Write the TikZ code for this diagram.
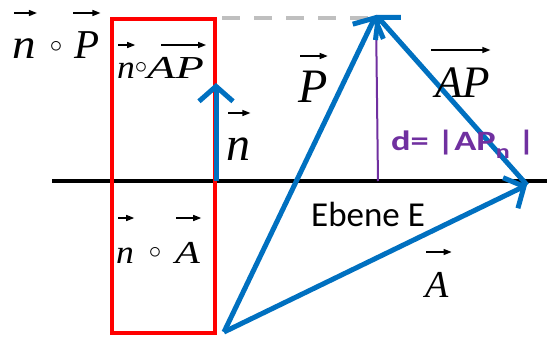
\documentclass[tikz,border=0pt]{standalone}
\usepackage{fontspec}
\setmainfont{Liberation Serif}
\newfontfamily\carl{Carlito}
\usepackage{graphicx}
\usetikzlibrary{arrows.meta}
\definecolor{eblue}{HTML}{0070C0}
\definecolor{epurple}{HTML}{7030A0}
\definecolor{ered}{HTML}{FF0000}
\definecolor{egray}{HTML}{BFBFBF}
\begin{document}
\begin{tikzpicture}[x=1pt,y=-1pt,
  bluevec/.style={draw=eblue, line width=5pt, -{Straight Barb[length=15pt,width=34pt]}},
  vecar/.style={line width=1.3pt, -{Triangle[length=8pt,width=6pt]}},
  lt/.style={inner sep=0pt, anchor=base west, font=\itshape\fontsize{#1}{#1}\selectfont},
  op/.style={inner sep=0pt, font=\fontsize{#1}{#1}\selectfont},
  lbl/.style={inner sep=0pt, anchor=base west}
]
\useasboundingbox (0,0) rectangle (547,343);
% points
\coordinate (O) at (224,332);
\coordinate (P) at (376,15);
\coordinate (A) at (527,185);
\coordinate (F) at (378,181);
\coordinate (L) at (52,181);
\coordinate (R) at (547,181);
\coordinate (nb) at (216,181);
\coordinate (nt) at (216,83);
\coordinate (g1) at (222,18);
\coordinate (g2) at (370,18);
% plane line
\draw[line width=4pt] (L) -- (R);
% red box
\draw[ered, line width=4pt] (112,19) rectangle (215,333);
% gray dashed
\draw[egray, line width=4pt, dash pattern=on 18pt off 14pt] (g1) -- (g2);
% purple distance
\draw[epurple, line width=2pt] (P) -- (F);
% blue vectors
\draw[bluevec] (nb) -- (nt);
\draw[bluevec] (O) -- (P);
\draw[bluevec] (O) -- (A);
\draw[bluevec] (A) -- (P);
% top-left formula
\node[lt=42] (n1) at (12,58) {\scalebox{1.12}[1]{n}};
\node[op=34] (c1) at (56,47) {$\circ$};
\node[lt=41] (P1) at (74,58) {P};
\draw[vecar] ([xshift=2pt,yshift=45pt]n1.base west) -- ([xshift=1pt,yshift=45pt]n1.base east);
\draw[vecar] ([xshift=-1pt,yshift=45pt]P1.base west) -- ([xshift=1pt,yshift=45pt]P1.base east);
% box upper formula
\node[lt=33] (n2) at (117,78) {\scalebox{1.08}[1]{n}};
\node[op=26] (c2) at (141,68) {$\circ$};
\node[lt=32] (AP2) at (147,78) {\scalebox{1.45}[1]{AP}};
\draw[vecar] ([xshift=1pt,yshift=33pt]n2.base west) -- ([xshift=0pt,yshift=33pt]n2.base east);
\draw[vecar] ([xshift=14pt,yshift=33pt]AP2.base west) -- ([xshift=2pt,yshift=33pt]AP2.base east);
% P label
\node[lt=48] (P3) at (298,102) {P};
\draw[vecar] ([xshift=2pt,yshift=46pt]P3.base west) -- ([xshift=0pt,yshift=46pt]P3.base east);
% AP label
\node[lt=45] (AP4) at (435,97) {AP};
\draw[vecar] ([xshift=-4pt,yshift=47pt]AP4.base west) -- ([xshift=0pt,yshift=47pt]AP4.base east);
% n label
\node[lt=48] (n5) at (226,160) {n};
\draw[vecar] ([xshift=2pt,yshift=47pt]n5.base west) -- ([xshift=0pt,yshift=47pt]n5.base east);
% box lower formula
\node[lt=33] (n6) at (116,263) {\scalebox{1.08}[1]{n}};
\node[op=26] (c6) at (155,253) {$\circ$};
\node[lt=32] (A6) at (175,263) {\scalebox{1.27}[1]{A}};
\draw[vecar] ([xshift=2pt,yshift=45pt]n6.base west) -- ([xshift=0pt,yshift=45pt]n6.base east);
\draw[vecar] ([xshift=1pt,yshift=45pt]A6.base west) -- ([xshift=1pt,yshift=45pt]A6.base east);
% A label
\node[lt=38] (A7) at (425,297) {A};
\draw[vecar] ([xshift=1pt,yshift=45pt]A7.base west) -- ([xshift=3pt,yshift=45pt]A7.base east);
% distance label
\node[lbl, text=epurple, font=\carl\bfseries\fontsize{28}{28}\selectfont] (d) at (391,150)
  {\scalebox{1.3}[1]{d= |AP\raisebox{-8pt}{\fontsize{20}{20}\selectfont n} |}};
% plane label
\node[lbl, font=\carl\fontsize{35}{35}\selectfont] (E) at (311,226) {Ebene E};
\end{tikzpicture}
\end{document}
